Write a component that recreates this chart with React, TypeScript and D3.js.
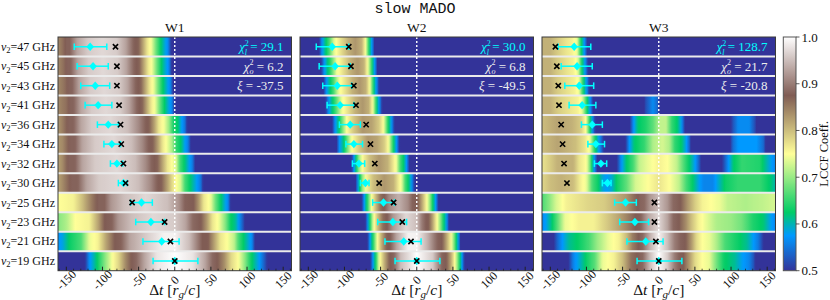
import * as d3 from 'd3';

type Profile = [number, number][];

// rows top to bottom
const FREQS = [47, 45, 43, 41, 36, 34, 32, 30, 25, 23, 21, 19];
const PANELS = ['W1', 'W2', 'W3'];

// observed lags (cyan) with error bounds, same in every panel
const OBS_LAG = [-117, -113, -110, -106, -92, -87, -80, -71, -46, -33, -18, 0];
const OBS_LO = [-139, -135, -130, -124, -107, -98, -89, -78, -61, -54, -44, -30];
const OBS_HI = [-94, -92, -90, -87, -78, -75, -72, -66, -31, -14, 6, 32];

// model lags (black x)
const W1_MODEL = [-82, -80, -80, -77, -75, -74, -71, -68, -59, -14, -6, 0];
const W2_MODEL = [-94, -91, -87, -84, -70, -64, -58, -52, -32, -20, -8, 0];
const W3_MODEL = [-143, -141, -139, -138, -135, -133, -131, -127, -6, -6, -4, 0];

const CHI_L = ['29.1', '30.0', '128.7'];
const CHI_O = ['6.2', '6.8', '21.7'];
const XI = ['-37.5', '-49.5', '-20.8'];

const X_TICKS = [-150, -100, -50, 0, 50, 100, 150];
const CBAR_TICKS = [0.5, 0.6, 0.7, 0.8, 0.9, 1.0];

// LCCF profiles per row: [lag, coeff]
const W1_PROFILES: Profile[] = [
  [[-162,0.84],[-155,0.86],[-150,0.88],[-145,0.88],[-135,0.93],[-120,0.96],[-100,0.97],[-80,0.96],[-68,0.93],[-57,0.88],[-50,0.87],[-44,0.82],[-38,0.77],[-32,0.74],[-26,0.68],[-20,0.63],[-14,0.59],[-9,0.56],[-5,0.5],[-2,0.45],[162,0.45]],
  [[-162,0.84],[-154,0.86],[-149,0.88],[-144,0.88],[-134,0.93],[-119,0.96],[-99,0.97],[-79,0.96],[-67,0.93],[-56,0.88],[-49,0.87],[-43,0.82],[-37,0.77],[-31,0.74],[-25,0.68],[-19,0.63],[-13,0.59],[-8,0.56],[-4,0.5],[-1,0.45],[162,0.45]],
  [[-162,0.84],[-152,0.86],[-147,0.88],[-142,0.88],[-132,0.93],[-117,0.96],[-97,0.97],[-77,0.96],[-65,0.93],[-54,0.88],[-47,0.87],[-41,0.82],[-35,0.77],[-29,0.74],[-23,0.68],[-17,0.63],[-11,0.59],[-6,0.56],[-2,0.5],[1,0.45],[162,0.45]],
  [[-162,0.84],[-150,0.86],[-145,0.88],[-140,0.88],[-130,0.93],[-115,0.96],[-95,0.97],[-75,0.96],[-63,0.93],[-52,0.88],[-45,0.87],[-39,0.82],[-33,0.77],[-27,0.74],[-21,0.68],[-15,0.63],[-9,0.59],[-4,0.56],[0,0.5],[3,0.45],[162,0.45]],
  [[-162,0.83],[-155,0.85],[-147,0.88],[-140,0.88],[-130,0.93],[-115,0.96],[-90,0.97],[-65,0.95],[-50,0.91],[-41,0.88],[-35,0.87],[-28,0.82],[-22,0.77],[-14,0.74],[-8,0.7],[-2,0.64],[5,0.62],[9,0.58],[14,0.55],[17,0.5],[20,0.45],[162,0.45]],
  [[-162,0.83],[-155,0.84],[-145,0.88],[-138,0.88],[-128,0.93],[-110,0.96],[-85,0.97],[-60,0.95],[-45,0.91],[-37,0.88],[-30,0.87],[-23,0.82],[-17,0.77],[-10,0.74],[-4,0.71],[2,0.65],[9,0.62],[14,0.58],[19,0.55],[22,0.5],[25,0.45],[162,0.45]],
  [[-162,0.82],[-155,0.84],[-147,0.88],[-138,0.88],[-128,0.93],[-110,0.96],[-80,0.97],[-55,0.95],[-40,0.91],[-32,0.88],[-24,0.87],[-17,0.82],[-10,0.77],[-4,0.75],[2,0.73],[7,0.66],[14,0.62],[20,0.58],[25,0.55],[28,0.5],[31,0.45],[162,0.45]],
  [[-162,0.82],[-155,0.84],[-143,0.88],[-134,0.88],[-122,0.93],[-105,0.96],[-75,0.97],[-50,0.95],[-33,0.91],[-25,0.88],[-18,0.87],[-10,0.82],[-4,0.78],[2,0.75],[8,0.73],[14,0.66],[22,0.62],[30,0.58],[36,0.55],[39,0.5],[42,0.45],[162,0.45]],
  [[-162,0.75],[-140,0.76],[-128,0.8],[-115,0.85],[-106,0.88],[-97,0.88],[-88,0.92],[-70,0.95],[-40,0.97],[-10,0.95],[5,0.92],[14,0.88],[26,0.875],[33,0.83],[40,0.77],[50,0.74],[56,0.68],[63,0.63],[69,0.59],[74,0.56],[77,0.5],[80,0.45],[162,0.45]],
  [[-162,0.69],[-150,0.71],[-138,0.75],[-118,0.76],[-106,0.82],[-97,0.875],[-87,0.88],[-78,0.92],[-60,0.95],[-30,0.97],[0,0.96],[15,0.93],[25,0.885],[36,0.875],[44,0.83],[52,0.77],[62,0.74],[70,0.69],[77,0.63],[84,0.61],[89,0.57],[94,0.53],[97,0.5],[100,0.45],[162,0.45]],
  [[-162,0.57],[-155,0.585],[-145,0.63],[-130,0.66],[-118,0.74],[-106,0.76],[-95,0.82],[-83,0.875],[-74,0.88],[-62,0.93],[-40,0.96],[-15,0.99],[0,0.99],[20,0.95],[32,0.9],[38,0.875],[46,0.875],[55,0.82],[63,0.77],[72,0.75],[82,0.72],[88,0.66],[96,0.62],[102,0.59],[107,0.56],[111,0.5],[114,0.45],[162,0.45]],
  [[-162,0.45],[-128,0.45],[-124,0.5],[-118,0.57],[-112,0.6],[-105,0.64],[-95,0.7],[-86,0.75],[-78,0.78],[-68,0.84],[-60,0.875],[-53,0.885],[-42,0.93],[-25,0.98],[0,1.0],[25,0.98],[42,0.93],[52,0.885],[59,0.875],[68,0.84],[78,0.78],[88,0.75],[96,0.7],[104,0.64],[112,0.6],[118,0.57],[124,0.53],[128,0.5],[132,0.45],[162,0.45]],
];

const W2_PROFILES: Profile[] = [
  [[-162,0.45],[-138,0.45],[-135,0.5],[-131,0.57],[-126,0.62],[-121,0.66],[-114,0.74],[-106,0.77],[-95,0.81],[-85,0.83],[-76,0.81],[-71,0.75],[-67,0.66],[-64,0.6],[-61,0.56],[-59,0.5],[-57,0.45],[162,0.45]],
  [[-162,0.45],[-135,0.45],[-132,0.5],[-128,0.57],[-123,0.62],[-118,0.66],[-111,0.74],[-103,0.77],[-92,0.81],[-82,0.83],[-73,0.81],[-68,0.75],[-63,0.66],[-60,0.6],[-57,0.56],[-55,0.5],[-53,0.45],[162,0.45]],
  [[-162,0.45],[-132,0.45],[-129,0.5],[-125,0.57],[-120,0.62],[-115,0.66],[-108,0.74],[-100,0.77],[-89,0.81],[-79,0.83],[-70,0.81],[-65,0.75],[-61,0.66],[-58,0.6],[-55,0.56],[-52,0.5],[-50,0.45],[162,0.45]],
  [[-162,0.45],[-129,0.45],[-126,0.5],[-122,0.57],[-117,0.62],[-112,0.66],[-104,0.74],[-96,0.77],[-85,0.81],[-75,0.83],[-66,0.81],[-61,0.75],[-57,0.66],[-54,0.6],[-51,0.56],[-48,0.5],[-46,0.45],[162,0.45]],
  [[-162,0.45],[-120,0.45],[-117,0.5],[-113,0.57],[-108,0.62],[-103,0.68],[-97,0.75],[-88,0.79],[-75,0.83],[-62,0.82],[-52,0.79],[-46,0.75],[-41,0.66],[-37,0.6],[-34,0.56],[-31,0.5],[-29,0.45],[162,0.45]],
  [[-162,0.45],[-114,0.45],[-111,0.5],[-107,0.57],[-101,0.62],[-96,0.68],[-90,0.75],[-80,0.79],[-68,0.83],[-55,0.82],[-45,0.79],[-39,0.75],[-34,0.66],[-30,0.6],[-27,0.56],[-24,0.5],[-22,0.45],[162,0.45]],
  [[-162,0.45],[-93,0.45],[-90,0.5],[-87,0.57],[-84,0.62],[-80,0.7],[-74,0.76],[-65,0.8],[-52,0.83],[-40,0.81],[-33,0.77],[-28,0.74],[-23,0.66],[-18,0.62],[-14,0.57],[-10,0.5],[-8,0.45],[162,0.45]],
  [[-162,0.45],[-87,0.45],[-84,0.5],[-82,0.57],[-79,0.62],[-75,0.7],[-69,0.76],[-60,0.8],[-45,0.83],[-32,0.81],[-26,0.77],[-21,0.74],[-16,0.66],[-11,0.62],[-7,0.57],[-3,0.5],[-1,0.45],[162,0.45]],
  [[-162,0.45],[-78,0.45],[-76,0.5],[-73,0.57],[-69,0.63],[-63,0.74],[-57,0.8],[-50,0.86],[-44,0.88],[-38,0.91],[-25,0.94],[-12,0.91],[-6,0.88],[1,0.875],[7,0.82],[13,0.76],[18,0.7],[22,0.63],[26,0.58],[29,0.52],[31,0.45],[162,0.45]],
  [[-162,0.45],[-73,0.45],[-71,0.5],[-68,0.57],[-65,0.63],[-60,0.74],[-54,0.8],[-47,0.86],[-40,0.88],[-33,0.92],[-15,0.97],[0,0.95],[7,0.9],[12,0.88],[17,0.87],[22,0.82],[28,0.75],[33,0.69],[37,0.63],[41,0.58],[44,0.52],[46,0.45],[162,0.45]],
  [[-162,0.45],[-70,0.45],[-68,0.5],[-65,0.57],[-61,0.63],[-55,0.74],[-49,0.81],[-42,0.87],[-36,0.88],[-28,0.93],[-12,0.99],[0,0.99],[15,0.94],[24,0.9],[29,0.88],[35,0.875],[41,0.82],[47,0.76],[52,0.68],[55,0.62],[58,0.57],[60,0.52],[62,0.45],[162,0.45]],
  [[-162,0.45],[-66,0.45],[-64,0.5],[-61,0.57],[-57,0.63],[-52,0.74],[-45,0.81],[-38,0.87],[-31,0.885],[-22,0.95],[0,1.0],[22,0.96],[30,0.91],[35,0.88],[41,0.875],[47,0.82],[52,0.76],[57,0.68],[60,0.62],[63,0.57],[65,0.52],[67,0.45],[162,0.45]],
];

const W3_PROFILES: Profile[] = [
  [[-162,0.81],[-150,0.81],[-140,0.79],[-128,0.77],[-120,0.76],[-113,0.74],[-109,0.66],[-105,0.6],[-102,0.56],[-99,0.5],[-97,0.45],[162,0.45]],
  [[-162,0.81],[-150,0.81],[-140,0.79],[-126,0.77],[-118,0.76],[-112,0.74],[-108,0.66],[-104,0.6],[-101,0.56],[-98,0.5],[-96,0.45],[162,0.45]],
  [[-162,0.81],[-150,0.81],[-140,0.79],[-124,0.77],[-116,0.76],[-110,0.74],[-106,0.66],[-102,0.6],[-99,0.56],[-96,0.5],[-94,0.45],[162,0.45]],
  [[-162,0.81],[-150,0.81],[-140,0.79],[-122,0.77],[-112,0.76],[-106,0.74],[-101,0.66],[-97,0.6],[-94,0.56],[-91,0.5],[-89,0.45],[-24,0.45],[-18,0.52],[-8,0.565],[-2,0.54],[3,0.45],[162,0.45]],
  [[-162,0.8],[-140,0.82],[-120,0.81],[-108,0.79],[-101,0.75],[-96,0.65],[-92,0.58],[-88,0.5],[-85,0.45],[-44,0.45],[-40,0.5],[-35,0.57],[-29,0.62],[-18,0.64],[-8,0.67],[2,0.72],[10,0.72],[18,0.65],[26,0.62],[31,0.58],[35,0.52],[38,0.45],[95,0.45],[102,0.52],[110,0.565],[125,0.565],[133,0.52],[138,0.45],[162,0.45]],
  [[-162,0.8],[-140,0.82],[-115,0.8],[-102,0.77],[-95,0.74],[-90,0.66],[-85,0.6],[-80,0.55],[-76,0.5],[-74,0.45],[-50,0.45],[-46,0.5],[-41,0.57],[-34,0.62],[-20,0.65],[-8,0.71],[5,0.73],[15,0.71],[22,0.65],[32,0.62],[38,0.58],[43,0.53],[46,0.45],[96,0.45],[102,0.54],[110,0.575],[135,0.575],[145,0.54],[151,0.45],[162,0.45]],
  [[-162,0.77],[-150,0.79],[-140,0.81],[-118,0.81],[-110,0.77],[-100,0.75],[-95,0.68],[-91,0.6],[-88,0.55],[-85,0.5],[-83,0.45],[-62,0.45],[-58,0.5],[-52,0.57],[-45,0.62],[-35,0.66],[-27,0.72],[-15,0.74],[0,0.76],[12,0.75],[25,0.72],[35,0.66],[43,0.62],[50,0.58],[56,0.53],[60,0.48],[85,0.48],[95,0.56],[103,0.62],[115,0.65],[140,0.64],[150,0.6],[158,0.57],[162,0.56]],
  [[-162,0.78],[-150,0.8],[-135,0.81],[-118,0.8],[-108,0.76],[-100,0.74],[-92,0.66],[-84,0.63],[-78,0.59],[-72,0.575],[-65,0.59],[-58,0.63],[-45,0.67],[-32,0.73],[-15,0.75],[0,0.77],[15,0.75],[28,0.72],[38,0.66],[48,0.62],[56,0.58],[62,0.56],[75,0.56],[82,0.59],[92,0.63],[110,0.65],[140,0.65],[155,0.62],[162,0.6]],
  [[-162,0.66],[-152,0.69],[-142,0.73],[-128,0.76],[-100,0.78],[-75,0.79],[-60,0.81],[-45,0.83],[-35,0.86],[-27,0.88],[-20,0.885],[-12,0.92],[0,0.95],[12,0.92],[20,0.885],[30,0.875],[40,0.83],[50,0.79],[60,0.76],[72,0.75],[85,0.74],[95,0.72],[120,0.71],[145,0.72],[162,0.73]],
  [[-162,0.56],[-156,0.58],[-148,0.62],[-140,0.67],[-130,0.74],[-110,0.76],[-90,0.76],[-72,0.79],[-55,0.82],[-42,0.85],[-32,0.875],[-25,0.88],[-15,0.93],[0,0.97],[12,0.93],[20,0.885],[28,0.875],[37,0.84],[45,0.8],[55,0.76],[65,0.74],[80,0.71],[100,0.7],[115,0.68],[130,0.64],[145,0.62],[155,0.58],[162,0.56]],
  [[-162,0.45],[-148,0.48],[-140,0.54],[-132,0.58],[-124,0.61],[-110,0.63],[-96,0.66],[-85,0.7],[-70,0.74],[-55,0.76],[-45,0.8],[-36,0.85],[-28,0.875],[-22,0.885],[-12,0.94],[0,0.99],[12,0.95],[22,0.9],[30,0.88],[37,0.875],[45,0.83],[52,0.78],[60,0.75],[70,0.74],[80,0.71],[92,0.66],[110,0.63],[122,0.61],[130,0.58],[138,0.55],[145,0.5],[150,0.45],[162,0.45]],
  [[-162,0.45],[-130,0.45],[-125,0.5],[-118,0.56],[-110,0.59],[-100,0.63],[-88,0.67],[-78,0.74],[-62,0.76],[-50,0.8],[-38,0.86],[-30,0.875],[-22,0.885],[-12,0.95],[0,1.0],[12,0.96],[22,0.9],[28,0.88],[34,0.875],[42,0.83],[50,0.78],[60,0.75],[70,0.74],[80,0.68],[90,0.63],[105,0.61],[115,0.58],[125,0.56],[132,0.52],[137,0.45],[162,0.45]],
];

const PROFILES = [W1_PROFILES, W2_PROFILES, W3_PROFILES];
const MODELS = [W1_MODEL, W2_MODEL, W3_MODEL];

const W = 830;
const H = 300;
const TOP = 37;
const BOTTOM = 270.7;
const PANEL_X = [58, 300, 542];
const PANEL_W = 233.5;
const CBAR_X = 783.3;
const CBAR_W = 12.7;
const CYAN = '#00ffff';
const SERIF = '"Liberation Serif", "DejaVu Serif", serif';

// matplotlib "terrain", vmin 0.5 / vmax 1.0
const terrain = d3
  .scaleLinear<string>()
  .domain([0, 0.15, 0.25, 0.5, 0.75, 1])
  .range(['#333399', '#0099ff', '#00cc66', '#ffff99', '#805c54', '#ffffff'])
  .interpolate(d3.interpolateRgb)
  .clamp(true);
const norm = d3.scaleLinear().domain([0.5, 1]).range([0, 1]).clamp(true);
const lccfColor = (v: number) => terrain(norm(v));

const yBand = d3.scaleBand<number>().domain(FREQS).range([TOP, BOTTOM]).padding(0);

function Panel({ p }: { p: number }) {
  const left = PANEL_X[p];
  const right = left + PANEL_W;
  const x = d3.scaleLinear().domain([-161.5, 161.5]).range([left, right]);
  const rowH = yBand.bandwidth();
  const cy = (i: number) => (yBand(FREQS[i]) ?? 0) + rowH / 2;
  const steps = d3.range(0, 161);
  const minor = d3.range(-160, 161, 10);

  return (
    <g>
      <defs>
        {PROFILES[p].map((prof, r) => {
          const s = d3.scaleLinear().domain(prof.map((d) => d[0])).range(prof.map((d) => d[1])).clamp(true);
          return (
            <linearGradient key={r} id={`g${p}-${r}`} x1="0" x2="1" y1="0" y2="0">
              {steps.map((k) => {
                const t = k / 160;
                return <stop key={k} offset={t} stopColor={lccfColor(s(x.invert(left + t * PANEL_W)))} />;
              })}
            </linearGradient>
          );
        })}
      </defs>
      {FREQS.map((f, r) => (
        <rect key={f} x={left} y={yBand(f)} width={PANEL_W} height={rowH} fill={`url(#g${p}-${r})`} />
      ))}
      {FREQS.slice(1).map((f) => (
        <line key={f} x1={left} x2={right} y1={yBand(f)} y2={yBand(f)} stroke="#ebebeb" strokeWidth={2} />
      ))}
      <line x1={x(0)} x2={x(0)} y1={TOP} y2={BOTTOM} stroke="#ffffff" strokeWidth={1.4} strokeDasharray="2 2" />

      {FREQS.map((f, r) => {
        const yc = cy(r);
        const xl = x(OBS_LAG[r]);
        const xm = x(MODELS[p][r]);
        return (
          <g key={f}>
            <line x1={x(OBS_LO[r])} x2={x(OBS_HI[r])} y1={yc} y2={yc} stroke={CYAN} strokeWidth={1.5} />
            <line x1={x(OBS_LO[r])} x2={x(OBS_LO[r])} y1={yc - 3.3} y2={yc + 3.3} stroke={CYAN} strokeWidth={1.5} />
            <line x1={x(OBS_HI[r])} x2={x(OBS_HI[r])} y1={yc - 3.3} y2={yc + 3.3} stroke={CYAN} strokeWidth={1.5} />
            <path d={`M${xl},${yc - 4.2}L${xl + 3.8},${yc}L${xl},${yc + 4.2}L${xl - 3.8},${yc}Z`} fill={CYAN} />
            <path
              d={`M${xm - 2.6},${yc - 2.6}L${xm + 2.6},${yc + 2.6}M${xm - 2.6},${yc + 2.6}L${xm + 2.6},${yc - 2.6}`}
              stroke="#000"
              strokeWidth={1.6}
            />
          </g>
        );
      })}

      <rect x={left} y={TOP} width={PANEL_W} height={BOTTOM - TOP} fill="none" stroke="#3a3a3a" strokeWidth={1} />
      {minor.map((t) => (
        <line
          key={t}
          x1={x(t)}
          x2={x(t)}
          y1={BOTTOM}
          y2={BOTTOM - (t % 50 === 0 ? 4 : 2)}
          stroke="#222"
          strokeWidth={t % 50 === 0 ? 1 : 0.8}
        />
      ))}
      {X_TICKS.map((t) => (
        <text
          key={t}
          transform={`translate(${x(t)},${280}) rotate(-45)`}
          textAnchor="middle"
          dominantBaseline="central"
          fontSize={12}
          fill="#111"
        >
          {String(t)}
        </text>
      ))}
      <text x={(left + right) / 2} y={295} textAnchor="middle" fontSize={15.5} fill="#111">
        Δ<tspan fontStyle="italic">t</tspan>
        {' ['}
        <tspan fontStyle="italic">r</tspan>
        <tspan fontStyle="italic" fontSize={11} dy={3}>g</tspan>
        <tspan dy={-3}>/</tspan>
        <tspan fontStyle="italic">c</tspan>]
      </text>

      <text x={(left + right) / 2} y={32} textAnchor="middle" fontSize={13.5} fill="#111">
        {PANELS[p]}
      </text>

      <g fontSize={13} textAnchor="end" style={{ whiteSpace: 'pre' }}>
        <text x={right - 8} y={cy(0) + 4.5} fill={CYAN}>
          <tspan fontStyle="italic">χ</tspan>
          <tspan fontSize={8} dy={-5.5}>2</tspan>
          <tspan fontSize={8} fontStyle="italic" dx={-4.2} dy={9}>l</tspan>
          <tspan dy={-3.5}>{` = ${CHI_L[p]}`}</tspan>
        </text>
        <text x={right - 8} y={cy(1) + 4.5} fill="#eeeeee">
          <tspan fontStyle="italic">χ</tspan>
          <tspan fontSize={8} dy={-5.5}>2</tspan>
          <tspan fontSize={8} fontStyle="italic" dx={-4.2} dy={9}>o</tspan>
          <tspan dy={-3.5}>{` = ${CHI_O[p]}`}</tspan>
        </text>
        <text x={right - 8} y={cy(2) + 4.5} fill="#eeeeee">
          <tspan fontStyle="italic">ξ</tspan>
          {` = ${XI[p]}`}
        </text>
      </g>
    </g>
  );
}

export default function App() {
  const rowH = yBand.bandwidth();
  const yc = d3.scaleLinear().domain([0.5, 1]).range([BOTTOM, TOP]);
  const cbarSteps = d3.range(0, 101);

  return (
    <svg
      width={W}
      height={H}
      style={{ position: 'absolute', left: 0, top: 0, background: '#fff' }}
      fontFamily={SERIF}
    >
      <defs>
        <linearGradient id="cbar" x1="0" x2="0" y1="1" y2="0">
          {cbarSteps.map((k) => (
            <stop key={k} offset={k / 100} stopColor={lccfColor(0.5 + (0.5 * k) / 100)} />
          ))}
        </linearGradient>
      </defs>

      <text
        x={415}
        y={13}
        textAnchor="middle"
        fontSize={15}
        fontFamily='"Liberation Mono", "DejaVu Sans Mono", monospace'
        fill="#111"
      >
        slow MADO
      </text>

      {FREQS.map((f) => (
        <text
          key={f}
          x={55}
          y={(yBand(f) ?? 0) + rowH / 2 + 4}
          textAnchor="end"
          fontSize={12}
          fill="#111"
        >
          <tspan fontStyle="italic">ν</tspan>
          <tspan fontSize={8.5} dy={2.5}>2</tspan>
          <tspan dy={-2.5}>{`=${f} GHz`}</tspan>
        </text>
      ))}

      {PANELS.map((_, p) => (
        <Panel key={p} p={p} />
      ))}

      <rect x={CBAR_X} y={TOP} width={CBAR_W} height={BOTTOM - TOP} fill="url(#cbar)" stroke="#555" strokeWidth={1} />
      {CBAR_TICKS.map((t) => (
        <g key={t}>
          <line x1={CBAR_X + CBAR_W} x2={CBAR_X + CBAR_W + 3.5} y1={yc(t)} y2={yc(t)} stroke="#333" strokeWidth={0.8} />
          <text x={CBAR_X + CBAR_W + 5.5} y={yc(t)} dominantBaseline="central" fontSize={13} fill="#111">
            {t.toFixed(1)}
          </text>
        </g>
      ))}
      <text
        transform={`translate(823.5,${(TOP + BOTTOM) / 2}) rotate(-90)`}
        textAnchor="middle"
        dominantBaseline="central"
        fontSize={12.5}
        fill="#111"
      >
        LCCF Coeff.
      </text>
    </svg>
  );
}
